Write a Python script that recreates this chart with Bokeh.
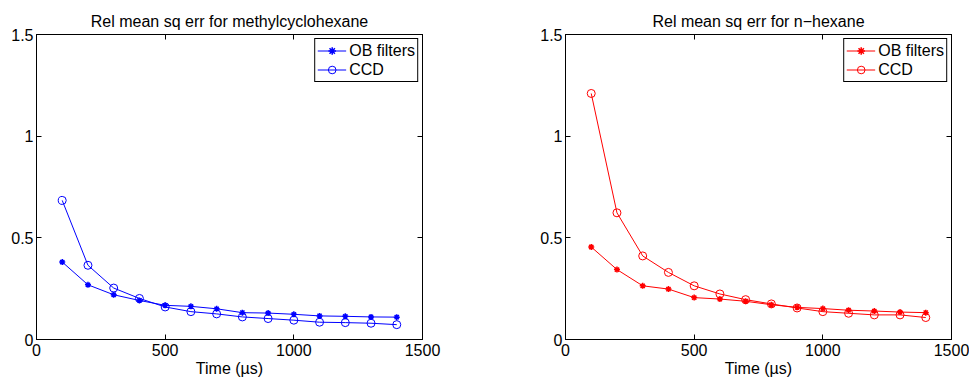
from bokeh.plotting import figure
from bokeh.layouts import row
from bokeh.models import LinearAxis, Range1d, Legend, LegendItem, FixedTicker
from bokeh.embed import file_html
from bokeh.resources import INLINE

# ---- data ----
time_us = [100, 200, 300, 400, 500, 600, 700, 800, 900, 1000, 1100, 1200, 1300, 1400]

mch_ob = [0.381, 0.269, 0.220, 0.192, 0.168, 0.163, 0.151, 0.132, 0.130, 0.124, 0.116, 0.114, 0.111, 0.110]
mch_ccd = [0.684, 0.365, 0.253, 0.202, 0.160, 0.137, 0.126, 0.111, 0.103, 0.095, 0.085, 0.083, 0.080, 0.073]

hex_ob = [0.455, 0.344, 0.264, 0.248, 0.206, 0.199, 0.188, 0.171, 0.158, 0.152, 0.144, 0.140, 0.135, 0.132]
hex_ccd = [1.210, 0.623, 0.411, 0.330, 0.264, 0.224, 0.196, 0.175, 0.155, 0.137, 0.129, 0.121, 0.121, 0.108]

x_ticks = [0, 500, 1000, 1500]
y_ticks = [0, 0.5, 1, 1.5]
y_tick_labels = ["0", "0.5", "1", "1.5"]
series_labels = ["OB filters", "CCD"]
titles = ["Rel mean sq err for methylcyclohexane", "Rel mean sq err for n\u2212hexane"]
x_label = "Time (\u00b5s)"

FONT = "Liberation Sans"
FS = "16px"
H = 379


def make_panel(title, ob, ccd, color, width, left, right):
    p = figure(width=width, height=H, output_backend="svg", toolbar_location=None,
               x_range=Range1d(0, 1500), y_range=Range1d(0, 1.5),
               min_border_left=left, min_border_right=right,
               min_border_top=34, min_border_bottom=H - 341)
    p.title.text = title
    p.title.align = "center"
    p.title.text_font = FONT
    p.title.text_font_size = FS
    p.title.text_font_style = "normal"
    p.title.text_color = "black"
    p.title.standoff = 9
    p.grid.visible = False
    p.outline_line_color = "black"
    p.outline_line_width = 1
    p.outline_line_alpha = 1

    for ax in p.xaxis + p.yaxis:
        ax.major_label_text_font = FONT
        ax.major_label_text_font_size = FS
        ax.major_label_text_color = "black"
        ax.axis_line_color = "black"
        ax.major_tick_line_color = "black"
        ax.major_tick_in = 5
        ax.major_tick_out = 0
        ax.minor_tick_line_color = None
        ax.major_label_standoff = 3
    p.xaxis.major_label_standoff = 4
    p.xaxis.ticker = FixedTicker(ticks=x_ticks)
    p.yaxis.ticker = FixedTicker(ticks=y_ticks)
    p.yaxis.major_label_overrides = {t: s for t, s in zip(y_ticks, y_tick_labels)}
    p.xaxis.axis_label = x_label
    p.xaxis.axis_label_text_font = FONT
    p.xaxis.axis_label_text_font_size = FS
    p.xaxis.axis_label_text_font_style = "normal"
    p.xaxis.axis_label_text_color = "black"
    p.xaxis.axis_label_standoff = 1

    # mirrored ticks on right and top (no labels)
    for loc, ticks in (("right", y_ticks), ("above", x_ticks)):
        ax = LinearAxis(ticker=FixedTicker(ticks=ticks))
        ax.major_label_text_font_size = "1px"
        ax.major_label_text_color = None
        ax.major_label_standoff = 0
        ax.major_tick_in = 5
        ax.major_tick_out = 0
        ax.minor_tick_line_color = None
        ax.axis_line_color = "black"
        ax.major_tick_line_color = "black"
        p.add_layout(ax, loc)

    l1 = p.line(time_us, ob, line_color=color, line_width=1)
    s1 = p.scatter(time_us, ob, marker="asterisk", size=6, line_color=color, line_width=1.5)
    l2 = p.line(time_us, ccd, line_color=color, line_width=1)
    s2 = p.scatter(time_us, ccd, marker="circle", size=8, line_color=color, fill_color=None, line_width=1)

    legend = Legend(items=[LegendItem(label=series_labels[0], renderers=[l1, s1]),
                           LegendItem(label=series_labels[1], renderers=[l2, s2])],
                    location="top_right")
    legend.label_text_font = FONT
    legend.label_text_font_size = FS
    legend.label_text_color = "black"
    legend.border_line_color = "black"
    legend.border_line_width = 1
    legend.border_line_alpha = 1
    legend.background_fill_color = "white"
    legend.background_fill_alpha = 1
    legend.margin = 4
    legend.padding = 2
    legend.spacing = 0
    legend.glyph_width = 29
    legend.glyph_height = 19
    legend.label_height = 19
    legend.label_standoff = 3
    p.add_layout(legend, "center")
    return p


p1 = make_panel(titles[0], mch_ob, mch_ccd, "#0000ff", 529, 36, 107)
p2 = make_panel(titles[1], hex_ob, hex_ccd, "#ff0000", 440, 36, 18)

layout = row(p1, p2)
open("out.html", "w").write(file_html(layout, INLINE))
